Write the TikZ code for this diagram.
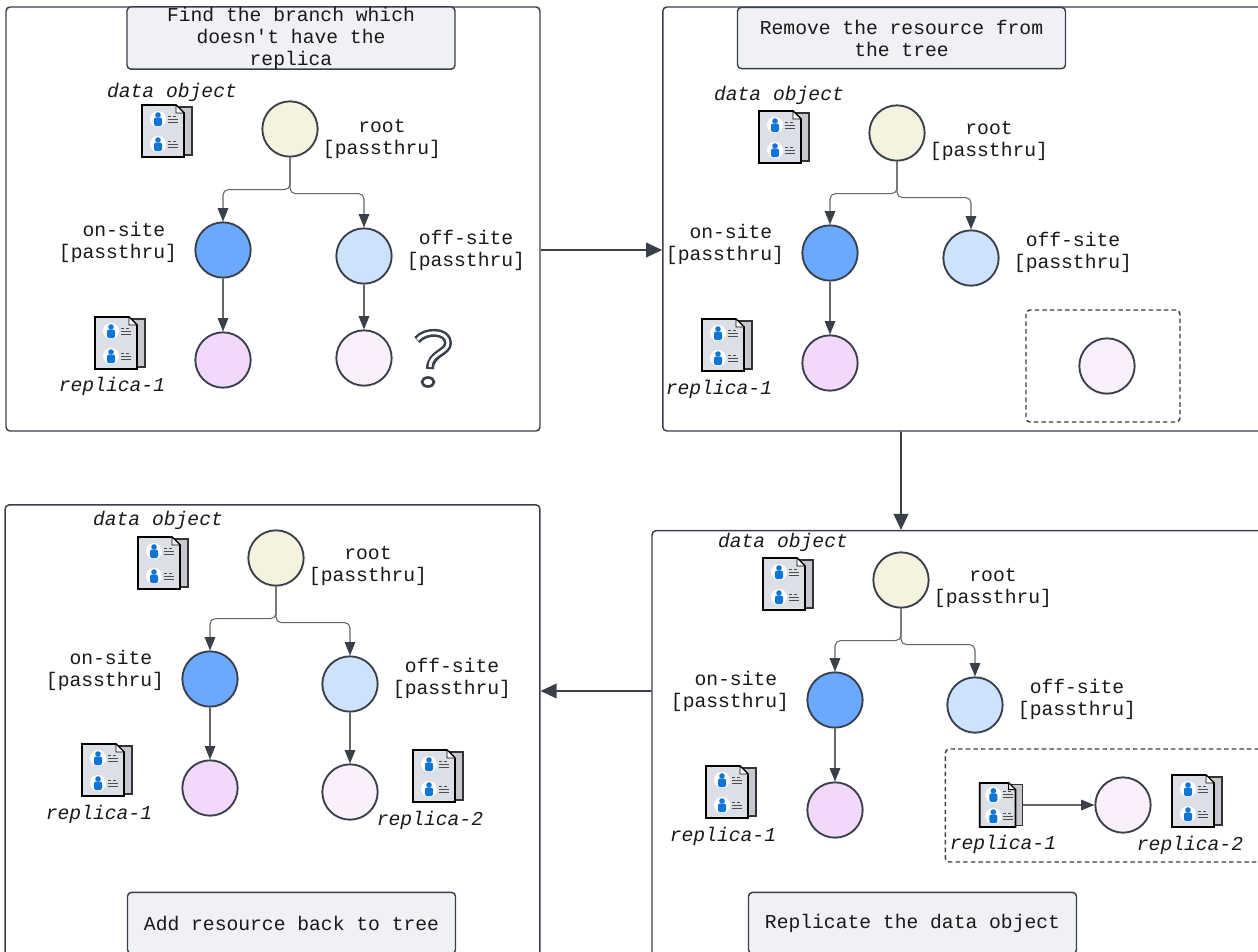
\documentclass[tikz,border=0pt]{standalone}
\usepackage{fontspec}
\setmonofont{Liberation Mono}
\usetikzlibrary{arrows.meta}
\definecolor{cline}{HTML}{3A4049}
\definecolor{cpanel}{HTML}{F0F1F4}
\definecolor{cuser}{HTML}{0F76D8}
\definecolor{cdoc}{HTML}{DDDFE6}
\definecolor{cback}{HTML}{C6C8CE}
\definecolor{croot}{HTML}{F5F2E0}
\definecolor{consite}{HTML}{6AA9FF}
\definecolor{coffsite}{HTML}{CDE3FD}
\definecolor{cfirst}{HTML}{F2D8FB}
\definecolor{csecond}{HTML}{FAF0FD}
\tikzset{
  user mark/.pic={
    \fill[white] (0,0) circle (8);
    \fill[cuser] (0,-4) circle (2.8);
    \fill[cuser,rounded corners=1.5pt] (-4,-1.5) rectangle (4,7);
    \draw[black!70,line width=.6pt] (10,-3) -- (13,-3) (15,-3) -- (18,-3);
    \draw[black!70,line width=.6pt] (10,0) -- (20,0) (10,3) -- (20,3);
  },
  doc icon/.pic={
    \draw[fill=cback,draw=black!80,line width=.8pt] (-10,-24) rectangle (25,24);
    \draw[fill=cdoc,draw=black,line width=1.3pt] (-25,-26) -- (9,-26) -- (17,-18) -- (17,26) -- (-25,26) -- cycle;
    \draw[fill=white,draw=black,line width=.7pt] (9,-26) -- (9,-18) -- (17,-18) -- cycle;
    \pic at (-9,-12) {user mark};
    \pic at (-9,13) {user mark};
    \node[inner sep=0pt,minimum width=37.5pt,minimum height=39pt,transform shape] (-box) at (0,0) {};
  }
}
\begin{document}
\begin{tikzpicture}[x=.75pt,y=-.75pt,>={Triangle[length=10pt,width=8pt,color=cline]},node distance=82.5pt,
  thick,txt/.style={font=\ttfamily\fontsize{14.75}{16.5}\selectfont,text=black!90,align=center,inner sep=0pt},
  name label/.style={txt,font=\ttfamily\itshape\fontsize{14.75}{16.5}\selectfont},
  panel node/.style={draw=cline,line width=1.1pt,rounded corners=3pt,inner sep=0pt,fill=white},
  title node/.style={txt,draw=cline,line width=1.1pt,rounded corners=3pt,fill=cpanel,minimum width=246pt,minimum height=46pt},
  dash node/.style={draw=cline,line width=1.1pt,dash pattern=on 3.4pt off 2.3pt,rounded corners=3pt,inner sep=0pt},
  root node/.style={circle,fill=croot,draw=cline,line width=1.4pt,minimum size=41.5pt,inner sep=0pt},
  on node/.style={root node,fill=consite},
  off node/.style={root node,fill=coffsite},
  first node/.style={root node,fill=cfirst},
  second node/.style={root node,fill=csecond},
  link/.style={->,draw=black!60,line width=.8pt,rounded corners=4pt},
  step link/.style={->,draw=cline,line width=1.2pt,>={Triangle[length=12pt,width=11pt]}}]
  \useasboundingbox (0,0) rectangle (1258,951);

  \node[panel node,minimum width=400.5pt,minimum height=318pt] (p1) at (273,219) {};
  \node[panel node,minimum width=478pt,minimum height=318pt] (p2) at (981.5,219) {};
  \node[panel node,minimum width=486pt,minimum height=344pt] (p3) at (976,760) {};
  \node[panel node,minimum width=401pt,minimum height=364pt] (p4) at (272.5,747.5) {};

  \node[title node] (t1) at (291,38) {\raisebox{-2pt}{\parbox{200pt}{\centering Find the branch which\\doesn't have the replica}}};
  \node[title node] (t2) at (901.5,38) {\raisebox{-2pt}{\parbox{220pt}{\centering Remove the resource from\\the tree}}};
  \node[title node] (t3) at (912.5,923) {Replicate the data object};
  \node[title node] (t4) at (291.5,923) {Add resource back to tree};

  % top left
  \node[on node] (on1) at (223,250) {};
  \node[root node] (a1) [above of=on1, xshift=50.25pt, yshift=8.25pt] {};
  \node[off node] (off1) [right of=on1, xshift=23.25pt, yshift=-4.5pt] {};
  \node[first node] (b1) [below of=on1] {};
  \node[second node] (e1) [below of=off1, yshift=6pt] {};
  \node[txt] (la1) [right of=a1, xshift=-13.5pt, yshift=-7.5pt] {root\\{[}passthru{]}};
  \node[txt] (lon1) [left of=on1, xshift=3.75pt, yshift=6pt] {\hspace*{8.85pt}on-site\\{[}passthru{]}};
  \node[txt] (loff1) [right of=off1, xshift=-6pt, yshift=4.5pt] {off-site\\{[}passthru{]}};
  \pic (d1) at (167,131) {doc icon};
  \pic (r1) at (120,343) {doc icon};
  \node[name label] (ld1) at (172,92) {data object};
  \node[name label] (lr1) at (112,386) {replica-1};
  \draw[line width=6pt,cline,line join=round] (417,340) .. controls (425,330) and (448,330) .. (448,343) .. controls (448,353) and (430,353) .. (430,369);
  \draw[line width=2.2pt,white,line join=round] (417.5,339.5) .. controls (425,330) and (448,330) .. (448,343) .. controls (448,353) and (430,353) .. (430,367);
  \draw[line width=2pt,cline,fill=white] (428,382) ellipse (6 and 4.5);

  % top right
  \node[on node] (on2) at (830,253) {};
  \node[root node] (a2) [above of=on2, xshift=50.25pt, yshift=7.5pt] {};
  \node[off node] (off2) [right of=on2, xshift=23.25pt, yshift=-3.75pt] {};
  \node[first node] (b2) [below of=on2] {};
  \node[dash node,minimum width=115.5pt,minimum height=84pt] (box2) at (1103,366) {};
  \node[second node] (e2) at (1107,366) {};
  \node[txt] (la2) [right of=a2, xshift=-13.5pt, yshift=-6pt] {root\\{[}passthru{]}};
  \node[txt] (lon2) [left of=on2, xshift=3.75pt, yshift=6.75pt] {\hspace*{8.85pt}on-site\\{[}passthru{]}};
  \node[txt] (loff2) [right of=off2, xshift=-6pt, yshift=4.5pt] {off-site\\{[}passthru{]}};
  \pic (d2) at (784,137) {doc icon};
  \pic (r2) at (727,345) {doc icon};
  \node[name label] (ld2) at (779,95) {data object};
  \node[name label] (lr2) at (719,389) {replica-1};

  % bottom right
  \node[on node] (on3) at (835,700) {};
  \node[root node] (a3) [above of=on3, xshift=49.5pt, yshift=7.5pt] {};
  \node[off node] (off3) [right of=on3, xshift=22.5pt, yshift=-3.75pt] {};
  \node[first node] (b3) [below of=on3] {};
  \node[dash node,minimum width=244pt,minimum height=84.75pt] (box3) at (1108,805.5) {};
  \node[second node] (e3) at (1123,805) {};
  \node[txt] (la3) [right of=a3, xshift=-13.5pt, yshift=-6pt] {root\\{[}passthru{]}};
  \node[txt] (lon3) [left of=on3, xshift=3.75pt, yshift=6.75pt] {\hspace*{8.85pt}on-site\\{[}passthru{]}};
  \node[txt] (loff3) [right of=off3, xshift=-6pt, yshift=4.5pt] {off-site\\{[}passthru{]}};
  \pic (d3) at (788,584) {doc icon};
  \pic (r3) at (731,792) {doc icon};
  \pic[scale=.85] (s3) at (1001,805) {doc icon};
  \pic (q3) at (1197,801) {doc icon};
  \node[name label] (ld3) at (783,542) {data object};
  \node[name label] (lr3) at (723,836) {replica-1};
  \node[name label] (ls3) at (1003,844) {replica-1};
  \node[name label] (lq3) at (1190,845) {replica-2};

  % bottom left
  \node[on node] (on4) at (210,679) {};
  \node[root node] (a4) [above of=on4, xshift=49.5pt, yshift=8.25pt] {};
  \node[off node] (off4) [right of=on4, xshift=22.5pt, yshift=-3.75pt] {};
  \node[first node] (b4) [below of=on4, yshift=.75pt] {};
  \node[second node] (e4) [below of=off4, yshift=1.5pt] {};
  \node[txt] (la4) [right of=a4, xshift=-13.5pt, yshift=-6pt] {root\\{[}passthru{]}};
  \node[txt] (lon4) [left of=on4, xshift=3.75pt, yshift=6.75pt] {\hspace*{8.85pt}on-site\\{[}passthru{]}};
  \node[txt] (loff4) [right of=off4, xshift=-6pt, yshift=4.5pt] {off-site\\{[}passthru{]}};
  \pic (d4) at (163,563) {doc icon};
  \pic (r4) at (107,770) {doc icon};
  \pic (q4) at (438,776) {doc icon};
  \node[name label] (ld4) at (158,520) {data object};
  \node[name label] (lr4) at (99,814) {replica-1};
  \node[name label] (lq4) at (430,820) {replica-2};

  \draw[link] (a1.south) -- ++(0,32) -| (on1);
  \draw[link] (a1.south) -- ++(0,36) -| (off1);
  \draw[link] (a2.south) -- ++(0,32) -| (on2);
  \draw[link] (a2.south) -- ++(0,36) -| (off2);
  \draw[link] (a3.south) -- ++(0,32) -| (on3);
  \draw[link] (a3.south) -- ++(0,36) -| (off3);
  \draw[link] (a4.south) -- ++(0,32) -| (on4);
  \draw[link] (a4.south) -- ++(0,36) -| (off4);
  \path
    (on1) edge[link] (b1)
    (off1) edge[link] (e1)
    (on2) edge[link] (b2)
    (on3) edge[link] (b3)
    (s3-box) edge[link] (e3)
    (on4) edge[link] (b4)
    (off4) edge[link] (e4);

  \draw[step link] ([yshift=-23.25pt]p1.east) -- ([yshift=-23.25pt]p2.west);
  \draw[step link] ([xshift=-60.4pt]p2.south) -- ([xshift=-56.25pt]p3.north);
  \draw[step link] ([yshift=51.75pt]p3.west) -- ([yshift=42.4pt]p4.east);
\end{tikzpicture}
\end{document}
